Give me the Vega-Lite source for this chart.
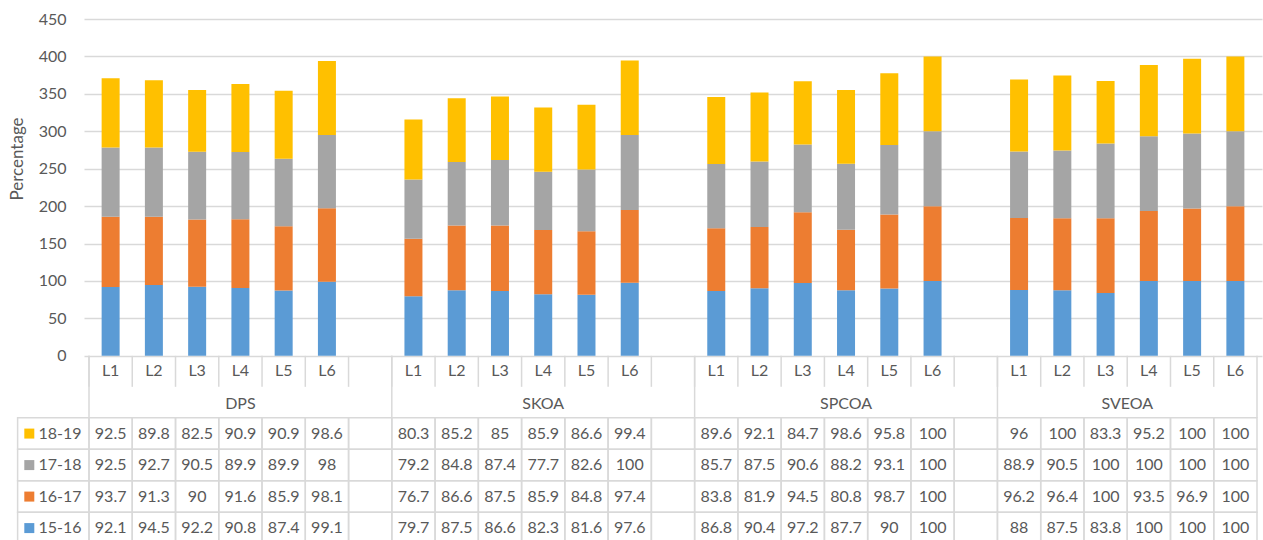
{
  "$schema": "https://vega.github.io/schema/vega-lite/v6.json",
  "width": 1178,
  "height": 521,
  "autosize": {"type": "none"},
  "padding": {"left": 84, "top": 19, "right": 1, "bottom": 0},
  "background": "white",
  "config": {
    "view": {"stroke": null},
    "font": "Lato",
    "text": {"font": "Lato", "fontSize": 16, "color": "#595959", "baseline": "middle"},
    "axisY": {
      "ticks": false,
      "tickSize": 0,
      "domain": false,
      "grid": true,
      "gridColor": "#D9D9D9",
      "gridWidth": 1.4,
      "labelPadding": 18,
      "labelFlush": false,
      "labelFont": "Lato",
      "labelFontSize": 16,
      "labelColor": "#595959",
      "titleFont": "Lato",
      "titleFontSize": 17,
      "titleFontWeight": "normal",
      "titleColor": "#595959",
      "titlePadding": 12,
      "titleY": 139.5
    }
  },
  "datasets": {
    "wide": [
      {"g": "DPS", "l": "L1", "15-16": 92.1, "16-17": 93.7, "17-18": 92.5, "18-19": 92.5},
      {"g": "DPS", "l": "L2", "15-16": 94.5, "16-17": 91.3, "17-18": 92.7, "18-19": 89.8},
      {"g": "DPS", "l": "L3", "15-16": 92.2, "16-17": 90, "17-18": 90.5, "18-19": 82.5},
      {"g": "DPS", "l": "L4", "15-16": 90.8, "16-17": 91.6, "17-18": 89.9, "18-19": 90.9},
      {"g": "DPS", "l": "L5", "15-16": 87.4, "16-17": 85.9, "17-18": 89.9, "18-19": 90.9},
      {"g": "DPS", "l": "L6", "15-16": 99.1, "16-17": 98.1, "17-18": 98, "18-19": 98.6},
      {"g": "DPS", "l": ""},
      {"g": "SKOA", "l": "L1", "15-16": 79.7, "16-17": 76.7, "17-18": 79.2, "18-19": 80.3},
      {"g": "SKOA", "l": "L2", "15-16": 87.5, "16-17": 86.6, "17-18": 84.8, "18-19": 85.2},
      {"g": "SKOA", "l": "L3", "15-16": 86.6, "16-17": 87.5, "17-18": 87.4, "18-19": 85},
      {"g": "SKOA", "l": "L4", "15-16": 82.3, "16-17": 85.9, "17-18": 77.7, "18-19": 85.9},
      {"g": "SKOA", "l": "L5", "15-16": 81.6, "16-17": 84.8, "17-18": 82.6, "18-19": 86.6},
      {"g": "SKOA", "l": "L6", "15-16": 97.6, "16-17": 97.4, "17-18": 100, "18-19": 99.4},
      {"g": "SKOA", "l": ""},
      {"g": "SPCOA", "l": "L1", "15-16": 86.8, "16-17": 83.8, "17-18": 85.7, "18-19": 89.6},
      {"g": "SPCOA", "l": "L2", "15-16": 90.4, "16-17": 81.9, "17-18": 87.5, "18-19": 92.1},
      {"g": "SPCOA", "l": "L3", "15-16": 97.2, "16-17": 94.5, "17-18": 90.6, "18-19": 84.7},
      {"g": "SPCOA", "l": "L4", "15-16": 87.7, "16-17": 80.8, "17-18": 88.2, "18-19": 98.6},
      {"g": "SPCOA", "l": "L5", "15-16": 90, "16-17": 98.7, "17-18": 93.1, "18-19": 95.8},
      {"g": "SPCOA", "l": "L6", "15-16": 100, "16-17": 100, "17-18": 100, "18-19": 100},
      {"g": "SPCOA", "l": ""},
      {"g": "SVEOA", "l": "L1", "15-16": 88, "16-17": 96.2, "17-18": 88.9, "18-19": 96},
      {"g": "SVEOA", "l": "L2", "15-16": 87.5, "16-17": 96.4, "17-18": 90.5, "18-19": 100},
      {"g": "SVEOA", "l": "L3", "15-16": 83.8, "16-17": 100, "17-18": 100, "18-19": 83.3},
      {"g": "SVEOA", "l": "L4", "15-16": 100, "16-17": 93.5, "17-18": 100, "18-19": 95.2},
      {"g": "SVEOA", "l": "L5", "15-16": 100, "16-17": 96.9, "17-18": 100, "18-19": 100},
      {"g": "SVEOA", "l": "L6", "15-16": 100, "16-17": 100, "17-18": 100, "18-19": 100}
    ]
  },
  "data": {"name": "wide"},
  "transform": [
    {"fold": ["15-16", "16-17", "17-18", "18-19"], "as": ["s", "v"]},
    {"calculate": "indexof(['DPS','SKOA','SPCOA','SVEOA'], datum.g)", "as": "gi"},
    {"calculate": "indexof(['L1','L2','L3','L4','L5','L6',''], datum.l)", "as": "li"},
    {"calculate": "datum.gi * 7 + datum.li", "as": "slot"},
    {"calculate": "datum.slot + 1", "as": "slot2"},
    {"calculate": "datum.slot + 0.5", "as": "xc"},
    {"calculate": "indexof(['18-19','17-18','16-17','15-16'], datum.s)", "as": "ri"},
    {"calculate": "-82.8 - datum.ri * 42.08", "as": "rtop"},
    {"calculate": "datum.rtop - 42.08", "as": "rbot"},
    {"calculate": "datum.rtop - 21.04", "as": "rmid"}
  ],
  "layer": [
    {
      "transform": [
        {"filter": "isValid(datum.v)"},
        {"stack": "v", "groupby": ["slot"], "sort": [{"field": "s", "order": "ascending"}], "as": ["y0", "y1"]}
      ],
      "mark": {"type": "bar", "width": 18},
      "encoding": {
        "x": {"field": "xc", "type": "quantitative", "scale": {"domain": [0, 27], "nice": false, "zero": false}, "axis": null},
        "y": {
          "field": "y0", "type": "quantitative", "title": "Percentage",
          "scale": {"domain": [-246, 450], "nice": false, "zero": false},
          "axis": {"values": [0, 50, 100, 150, 200, 250, 300, 350, 400, 450], "title": "Percentage"}
        },
        "y2": {"field": "y1"},
        "color": {
          "field": "s", "type": "nominal",
          "scale": {"domain": ["15-16", "16-17", "17-18", "18-19"], "range": ["#5B9BD5", "#ED7D31", "#A5A5A5", "#FFC000"]},
          "legend": null
        }
      }
    },
    {
      "transform": [{"filter": "datum.s == '15-16'"}],
      "mark": {"type": "rule", "color": "#D9D9D9", "strokeWidth": 1.5},
      "encoding": {
        "x": {"field": "slot", "type": "quantitative", "scale": {"domain": [0, 27], "nice": false, "zero": false}, "axis": null},
        "y": {"datum": 0, "type": "quantitative", "title": "Percentage", "scale": {"domain": [-246, 450], "nice": false, "zero": false}, "axis": {"values": [0, 50, 100, 150, 200, 250, 300, 350, 400, 450], "title": "Percentage"}},
        "y2": {"datum": -41.4}
      }
    },
    {
      "transform": [
        {"filter": "datum.s == '15-16' && (datum.li == 0 || datum.slot == 26)"},
        {"calculate": "datum.li == 0 ? datum.slot : datum.slot + 1", "as": "gx"}
      ],
      "mark": {"type": "rule", "color": "#D9D9D9", "strokeWidth": 1.5},
      "encoding": {
        "x": {"field": "gx", "type": "quantitative", "scale": {"domain": [0, 27], "nice": false, "zero": false}, "axis": null},
        "y": {"datum": 0, "type": "quantitative", "title": "Percentage", "scale": {"domain": [-246, 450], "nice": false, "zero": false}, "axis": {"values": [0, 50, 100, 150, 200, 250, 300, 350, 400, 450], "title": "Percentage"}},
        "y2": {"datum": -82.8}
      }
    },
    {
      "mark": {"type": "rect", "fill": "white", "fillOpacity": 0, "stroke": "#D9D9D9", "strokeWidth": 1.5},
      "encoding": {
        "x": {"field": "slot", "type": "quantitative", "scale": {"domain": [0, 27], "nice": false, "zero": false}, "axis": null},
        "x2": {"field": "slot2"},
        "y": {"field": "rtop", "type": "quantitative", "title": "Percentage", "scale": {"domain": [-246, 450], "nice": false, "zero": false}, "axis": {"values": [0, 50, 100, 150, 200, 250, 300, 350, 400, 450], "title": "Percentage"}},
        "y2": {"field": "rbot"}
      }
    },
    {
      "transform": [{"filter": "datum.gi == 0 && datum.li == 0"}],
      "mark": {"type": "rect", "fill": "white", "fillOpacity": 0, "stroke": "#D9D9D9", "strokeWidth": 1.5},
      "encoding": {
        "x": {"datum": -1.65, "type": "quantitative", "scale": {"domain": [0, 27], "nice": false, "zero": false}, "axis": null},
        "x2": {"datum": 0},
        "y": {"field": "rtop", "type": "quantitative", "title": "Percentage", "scale": {"domain": [-246, 450], "nice": false, "zero": false}, "axis": {"values": [0, 50, 100, 150, 200, 250, 300, 350, 400, 450], "title": "Percentage"}},
        "y2": {"field": "rbot"}
      }
    },
    {
      "transform": [{"filter": "datum.gi == 0 && datum.li == 0"}],
      "mark": {"type": "point", "shape": "square", "filled": true, "opacity": 1, "size": 100},
      "encoding": {
        "x": {"datum": -1.38, "type": "quantitative", "scale": {"domain": [0, 27], "nice": false, "zero": false}, "axis": null},
        "y": {"field": "rmid", "type": "quantitative", "title": "Percentage", "scale": {"domain": [-246, 450], "nice": false, "zero": false}, "axis": {"values": [0, 50, 100, 150, 200, 250, 300, 350, 400, 450], "title": "Percentage"}},
        "color": {"field": "s", "type": "nominal", "legend": null}
      }
    },
    {
      "transform": [{"filter": "datum.gi == 0 && datum.li == 0"}],
      "mark": {"type": "text", "align": "left"},
      "encoding": {
        "x": {"datum": -1.17, "type": "quantitative", "scale": {"domain": [0, 27], "nice": false, "zero": false}, "axis": null},
        "y": {"field": "rmid", "type": "quantitative", "title": "Percentage", "scale": {"domain": [-246, 450], "nice": false, "zero": false}, "axis": {"values": [0, 50, 100, 150, 200, 250, 300, 350, 400, 450], "title": "Percentage"}},
        "text": {"field": "s", "type": "nominal"}
      }
    },
    {
      "transform": [{"filter": "datum.s == '15-16' && datum.li < 6"}],
      "mark": {"type": "text", "align": "center"},
      "encoding": {
        "x": {"field": "xc", "type": "quantitative", "scale": {"domain": [0, 27], "nice": false, "zero": false}, "axis": null},
        "y": {"datum": -20.7, "type": "quantitative", "title": "Percentage", "scale": {"domain": [-246, 450], "nice": false, "zero": false}, "axis": {"values": [0, 50, 100, 150, 200, 250, 300, 350, 400, 450], "title": "Percentage"}},
        "text": {"field": "l", "type": "nominal"}
      }
    },
    {
      "transform": [
        {"filter": "datum.s == '15-16' && datum.li == 0"},
        {"calculate": "datum.gi == 3 ? 24 : datum.gi * 7 + 3.5", "as": "gc"}
      ],
      "mark": {"type": "text", "align": "center"},
      "encoding": {
        "x": {"field": "gc", "type": "quantitative", "scale": {"domain": [0, 27], "nice": false, "zero": false}, "axis": null},
        "y": {"datum": -64.1, "type": "quantitative", "title": "Percentage", "scale": {"domain": [-246, 450], "nice": false, "zero": false}, "axis": {"values": [0, 50, 100, 150, 200, 250, 300, 350, 400, 450], "title": "Percentage"}},
        "text": {"field": "g", "type": "nominal"}
      }
    },
    {
      "transform": [{"filter": "isValid(datum.v)"}],
      "mark": {"type": "text", "align": "center"},
      "encoding": {
        "x": {"field": "xc", "type": "quantitative", "scale": {"domain": [0, 27], "nice": false, "zero": false}, "axis": null},
        "y": {"field": "rmid", "type": "quantitative", "title": "Percentage", "scale": {"domain": [-246, 450], "nice": false, "zero": false}, "axis": {"values": [0, 50, 100, 150, 200, 250, 300, 350, 400, 450], "title": "Percentage"}},
        "text": {"field": "v", "type": "nominal"}
      }
    }
  ]
}
